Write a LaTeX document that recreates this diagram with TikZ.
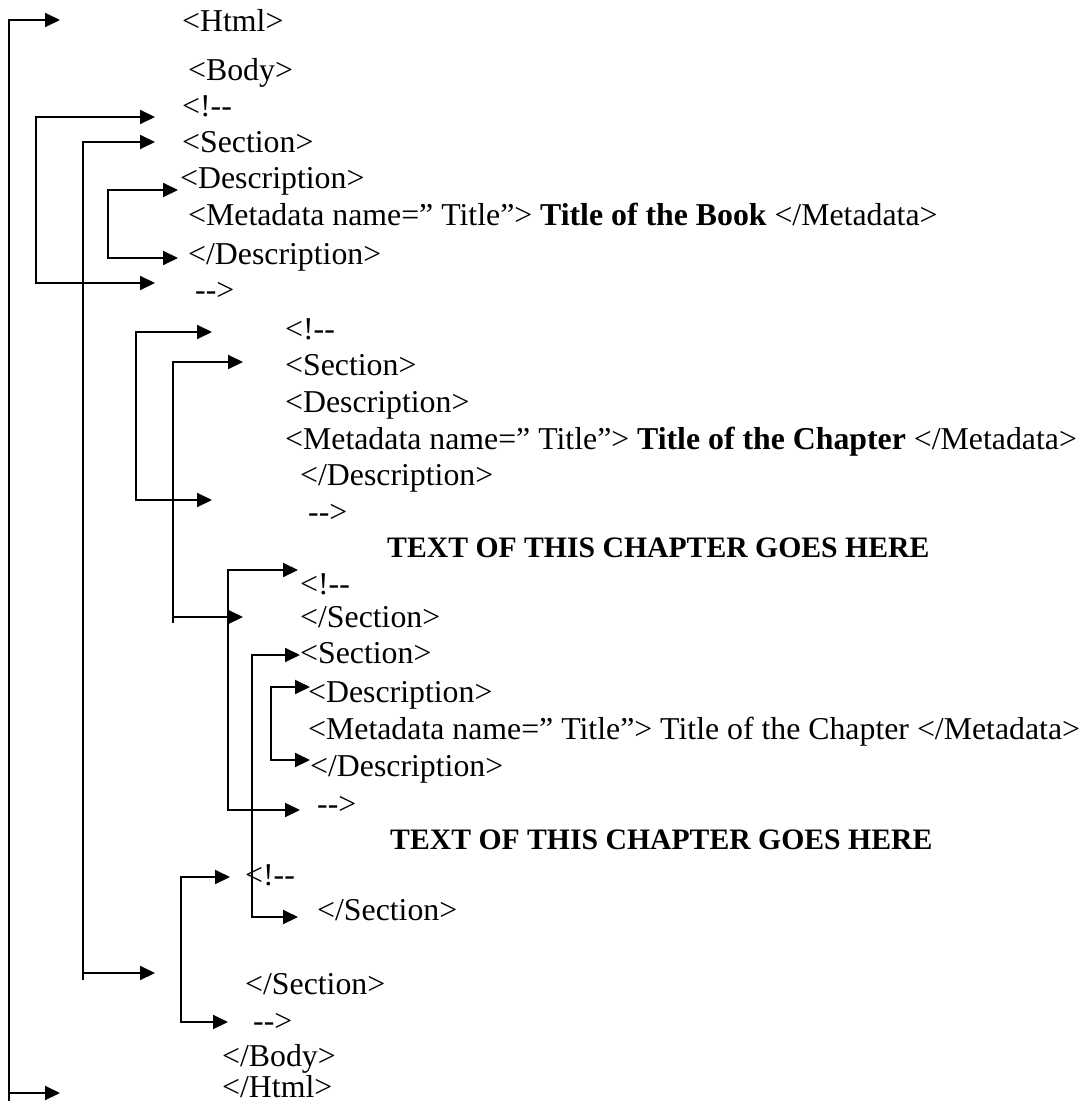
\documentclass[tikz,border=0pt]{standalone}
\usepackage{fontspec}
\setmainfont{Liberation Serif}
\usetikzlibrary{arrows.meta}
\begin{document}
\begin{tikzpicture}[x=1pt,y=-1pt,
  txt/.style={anchor=base west,inner sep=0pt,font=\fontsize{31.8}{36}\selectfont},
  bld/.style={txt,font=\fontsize{29.7}{36}\selectfont\bfseries},
  ln/.style={line width=2pt},
  brk/.style={ln,{Triangle[length=15pt,width=14pt]}-{Triangle[length=15pt,width=14pt]}}]
\useasboundingbox[fill=white] (0,0) rectangle (1089,1105);
% text lines
\node[txt] (l1) at (182,32) {<Html>};
\node[txt] (l2) at (188,81) {<Body>};
\node[txt] (l3) at (182,117) {<!-{}-};
\node[txt] (l4) at (182,152) {<Section>};
\node[txt] (l5) at (180,188) {<Description>};
\node[txt] (l6) at (188,225) {<Metadata name=” Title”> \textbf{Title of the Book} </Metadata>};
\node[txt] (l7) at (188,264) {</Description>};
\node[txt] (l8) at (195,300) {-{}->};
\node[txt] (l9) at (285,339) {<!-{}-};
\node[txt] (l10) at (285,375) {<Section>};
\node[txt] (l11) at (285,412) {<Description>};
\node[txt] (l12) at (285,449) {<Metadata name=” Title”> \textbf{Title of the Chapter} </Metadata>};
\node[txt] (l13) at (300,485) {</Description>};
\node[txt] (l14) at (308,522) {-{}->};
\node[bld] (l15) at (387,557) {TEXT OF THIS CHAPTER GOES HERE};
\node[txt] (l16) at (300,594) {<!-{}-};
\node[txt] (l17) at (300,627) {</Section>};
\node[txt] (l18) at (300,663) {<Section>};
\node[txt] (l19) at (308,702) {<Description>};
\node[txt] (l20) at (308,739) {<Metadata name=” Title”> Title of the Chapter </Metadata>};
\node[txt] (l21) at (310,776) {</Description>};
\node[txt] (l22) at (317,814) {-{}->};
\node[bld] (l23) at (390,849) {TEXT OF THIS CHAPTER GOES HERE};
\node[txt] (l24) at (245,885) {<!-{}-};
\node[txt] (l25) at (317,920) {</Section>};
\node[txt] (l26) at (245,994) {</Section>};
\node[txt] (l27) at (253,1031) {-{}->};
\node[txt] (l28) at (222,1066) {</Body>};
\node[txt] (l29) at (222,1097) {</Html>};
% bracket coordinates: spine, top tip, bottom tip
\coordinate (s0) at (9,0);   \coordinate (a0) at (60,20);   \coordinate (b0) at (60,1093);
\coordinate (s1) at (36,0);  \coordinate (a1) at (155,117); \coordinate (b1) at (155,283);
\coordinate (s2) at (83,0);  \coordinate (a2) at (155,142); \coordinate (b2) at (155,973);
\coordinate (s3) at (108,0); \coordinate (a3) at (178,190); \coordinate (b3) at (178,258);
\coordinate (s4) at (136,0); \coordinate (a4) at (212,332); \coordinate (b4) at (212,500);
\coordinate (s5) at (173,0); \coordinate (a5) at (243,362); \coordinate (b5) at (243,617);
\coordinate (s6) at (228,0); \coordinate (a6) at (298,570); \coordinate (b6) at (300,810);
\coordinate (s7) at (252,0); \coordinate (a7) at (300,655); \coordinate (b7) at (298,917);
\coordinate (s8) at (271,0); \coordinate (a8) at (310,687); \coordinate (b8) at (310,760);
\coordinate (s9) at (181,0); \coordinate (a9) at (230,877); \coordinate (b9) at (228,1022);
\foreach \i in {0,...,9}{
  \draw[brk] (a\i) -- (a\i -| s\i) -- (b\i -| s\i) -- (b\i);
}
% small spine overshoots
\draw[ln] (b0 -| s0) -- ++(0,8);
\draw[ln] (b2 -| s2) -- ++(0,7);
\draw[ln] (b5 -| s5) -- ++(0,6);
\end{tikzpicture}
\end{document}
